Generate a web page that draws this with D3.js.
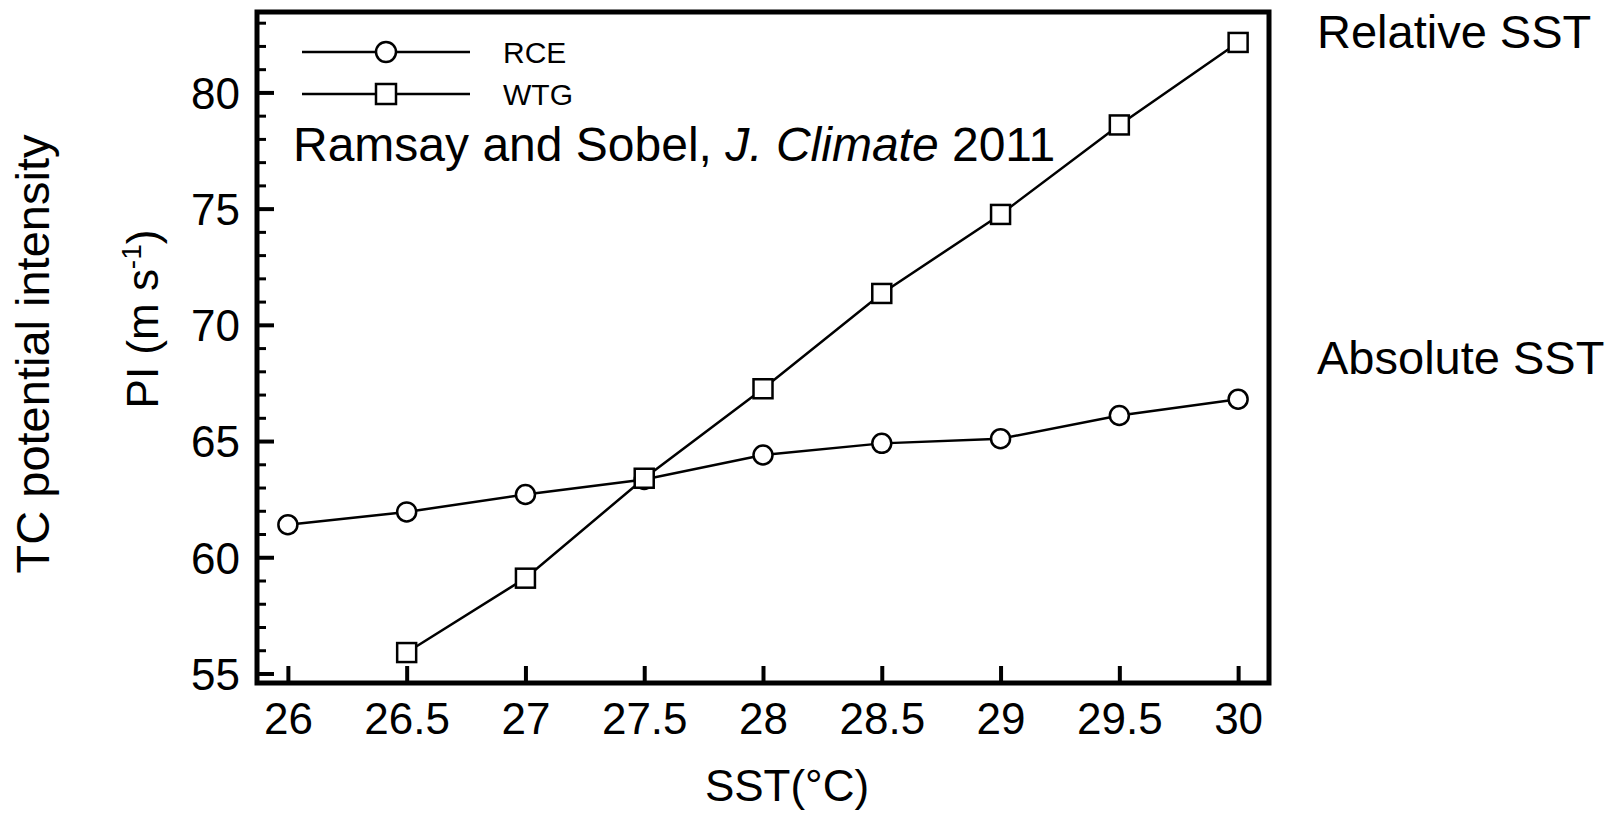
<!DOCTYPE html>
<html>
<head>
<meta charset="utf-8">
<script src="https://cdn.jsdelivr.net/npm/d3@7"></script>
<style>
  html, body { margin: 0; padding: 0; background: #fff; }
  svg text { font-family: "Liberation Sans", Arial, Helvetica, sans-serif; fill: #000; }
</style>
</head>
<body>
<svg id="chart" width="1614" height="815"></svg>
<script>
// Sea surface temperature (°C) of each experiment
const sst = [26, 26.5, 27, 27.5, 28, 28.5, 29, 29.5, 30];
// Potential intensity (m/s), radiative-convective equilibrium runs
const rce = [61.4, 61.95, 62.7, 63.35, 64.4, 64.9, 65.1, 66.1, 66.8];
// Potential intensity (m/s), weak temperature gradient runs (no 26 °C run)
const wtgSst = [26.5, 27, 27.5, 28, 28.5, 29, 29.5, 30];
const wtg = [55.9, 59.1, 63.4, 67.25, 71.35, 74.75, 78.6, 82.15];

const xTicks = [26, 26.5, 27, 27.5, 28, 28.5, 29, 29.5, 30];
const yTicks = [55, 60, 65, 70, 75, 80];
const yMinor = d3.range(55, 84, 1);

const svg = d3.select("#chart");
const frame = { left: 257, right: 1269, top: 12, bottom: 683 };

const x = d3.scaleLinear().domain([25.87, 30.13]).range([frame.left, frame.right]);
const y = d3.scaleLinear().domain([54.59, 83.46]).range([frame.bottom, frame.top]);

// Minor ticks on the left axis
const gMinor = svg.append("g")
  .attr("transform", `translate(${frame.left},0)`)
  .call(d3.axisLeft(y).tickValues(yMinor.filter(v => v % 5 !== 0)).tickSize(-9).tickFormat(""));
gMinor.select(".domain").remove();
gMinor.selectAll("line").attr("stroke", "#000").attr("stroke-width", 3);

// Major ticks and labels on the left axis
const gy = svg.append("g")
  .attr("transform", `translate(${frame.left},0)`)
  .call(d3.axisLeft(y).tickValues(yTicks).tickSize(-17).tickPadding(17).tickFormat(d3.format("d")));
gy.select(".domain").remove();
gy.selectAll("line").attr("stroke", "#000").attr("stroke-width", 4);
gy.selectAll("text").attr("font-size", 44).attr("fill", "#111").attr("dy", "0.36em");

// Bottom axis
const gx = svg.append("g")
  .attr("transform", `translate(0,${frame.bottom})`)
  .call(d3.axisBottom(x).tickValues(xTicks).tickSize(-17).tickPadding(20).tickFormat(d => String(d)));
gx.select(".domain").remove();
gx.selectAll("line").attr("stroke", "#000").attr("stroke-width", 4);
gx.selectAll("text").attr("font-size", 44).attr("fill", "#111");

// Plot frame
svg.append("rect")
  .attr("x", frame.left).attr("y", frame.top)
  .attr("width", frame.right - frame.left).attr("height", frame.bottom - frame.top)
  .attr("fill", "none").attr("stroke", "#000").attr("stroke-width", 5);

const line = d3.line().x(d => x(d[0])).y(d => y(d[1]));
const rcePts = sst.map((s, i) => [s, rce[i]]);
const wtgPts = wtgSst.map((s, i) => [s, wtg[i]]);

svg.append("path").datum(rcePts).attr("d", line)
  .attr("fill", "none").attr("stroke", "#000").attr("stroke-width", 2.5);
svg.append("path").datum(wtgPts).attr("d", line)
  .attr("fill", "none").attr("stroke", "#000").attr("stroke-width", 2.5);

svg.append("g").selectAll("circle").data(rcePts).join("circle")
  .attr("cx", d => x(d[0])).attr("cy", d => y(d[1])).attr("r", 9.5)
  .attr("fill", "#fff").attr("stroke", "#000").attr("stroke-width", 2.5);
svg.append("g").selectAll("rect").data(wtgPts).join("rect")
  .attr("x", d => x(d[0]) - 9.5).attr("y", d => y(d[1]) - 9.5)
  .attr("width", 19).attr("height", 19)
  .attr("fill", "#fff").attr("stroke", "#000").attr("stroke-width", 2.5);

// Legend
const legend = svg.append("g");
[["RCE", 52, "circle"], ["WTG", 94, "square"]].forEach(([name, ly, shape]) => {
  legend.append("line").attr("x1", 302).attr("x2", 470).attr("y1", ly).attr("y2", ly)
    .attr("stroke", "#000").attr("stroke-width", 2.5);
  if (shape === "circle") {
    legend.append("circle").attr("cx", 386).attr("cy", ly).attr("r", 10)
      .attr("fill", "#fff").attr("stroke", "#000").attr("stroke-width", 2.5);
  } else {
    legend.append("rect").attr("x", 376).attr("y", ly - 10).attr("width", 20).attr("height", 20)
      .attr("fill", "#fff").attr("stroke", "#000").attr("stroke-width", 2.5);
  }
  legend.append("text").attr("x", 503).attr("y", ly + 11)
    .attr("font-size", 30).attr("fill", "#222").text(name);
});

// Citation
const cite = svg.append("text").attr("x", 293).attr("y", 161).attr("font-size", 48);
cite.append("tspan").text("Ramsay and Sobel, ");
cite.append("tspan").attr("font-style", "italic").text("J. Climate");
cite.append("tspan").text(" 2011");

// Axis titles
svg.append("text").attr("x", 787).attr("y", 801).attr("text-anchor", "middle")
  .attr("font-size", 44).attr("fill", "#111").text("SST(°C)");

const pi = svg.append("text")
  .attr("transform", "translate(158,319) rotate(-90)")
  .attr("text-anchor", "middle").attr("font-size", 44).attr("fill", "#111");
pi.append("tspan").text("PI (m s");
pi.append("tspan").attr("font-size", 28).attr("dy", "-0.6em").text("-1");
pi.append("tspan").attr("dy", "0.38em").text(")");

svg.append("text")
  .attr("transform", "translate(49,354) rotate(-90)")
  .attr("text-anchor", "middle").attr("font-size", 47).text("TC potential intensity");

// Side annotations
svg.append("text").attr("x", 1317).attr("y", 48).attr("font-size", 47).text("Relative SST");
svg.append("text").attr("x", 1317).attr("y", 374).attr("font-size", 47).text("Absolute SST");
</script>
</body>
</html>
